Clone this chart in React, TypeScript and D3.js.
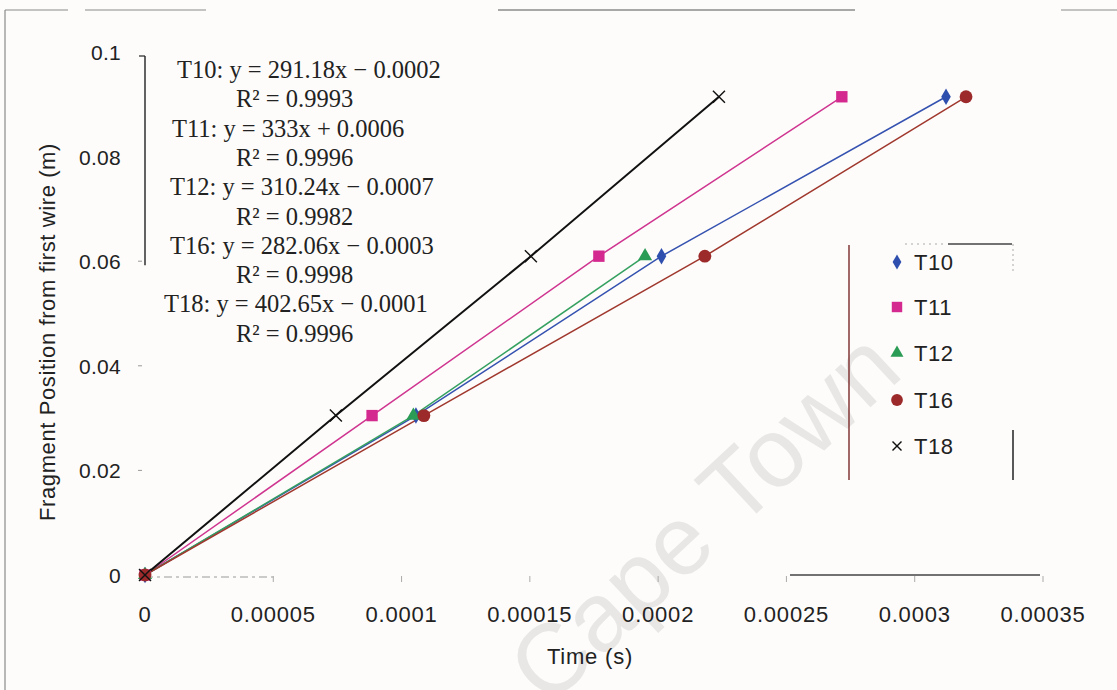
import React from 'react';
import * as d3 from 'd3';

const xTicks = [0, 0.00005, 0.0001, 0.00015, 0.0002, 0.00025, 0.0003, 0.00035];
const xTickLabels = ['0', '0.00005', '0.0001', '0.00015', '0.0002', '0.00025', '0.0003', '0.00035'];
const yTicks = [0, 0.02, 0.04, 0.06, 0.08, 0.1];
const yTickLabels = ['0', '0.02', '0.04', '0.06', '0.08', '0.1'];

const positions = [0, 0.03048, 0.06096, 0.09144];
const t10Times = [0, 0.0001056, 0.0002013, 0.0003122];
const t11Times = [0, 0.0000885, 0.0001769, 0.0002716];
const t12Times = [0, 0.0001046, 0.0001949];
const t16Times = [0, 0.0001087, 0.0002182, 0.00032];
const t18Times = [0, 0.0000744, 0.0001504, 0.0002237];

const seriesNames = ['T10', 'T11', 'T12', 'T16', 'T18'];
const seriesTimes = [t10Times, t11Times, t12Times, t16Times, t18Times];
const seriesColors = ['#2f4fae', '#d42a8f', '#2a9c55', '#9c2a2a', '#111111'];
const lineColors = ['#3552b0', '#cf3590', '#35a060', '#a0382e', '#111111'];
const seriesShapes = ['diamond', 'square', 'triangle', 'circle', 'x'];

const equationLines = [
  'T10: y = 291.18x − 0.0002',
  'R² = 0.9993',
  'T11: y = 333x + 0.0006',
  'R² = 0.9996',
  'T12: y = 310.24x − 0.0007',
  'R² = 0.9982',
  'T16: y = 282.06x − 0.0003',
  'R² = 0.9998',
  'T18: y = 402.65x − 0.0001',
  'R² = 0.9996',
];

function Marker({ shape, x, y, color, size }: { shape: string; x: number; y: number; color: string; size: number }) {
  if (shape === 'x') {
    const h = size / 2;
    return (
      <g stroke={color} strokeWidth={1.4}>
        <line x1={x - h} y1={y - h} x2={x + h} y2={y + h} />
        <line x1={x - h} y1={y + h} x2={x + h} y2={y - h} />
      </g>
    );
  }
  const type =
    shape === 'diamond' ? d3.symbolDiamond : shape === 'square' ? d3.symbolSquare : shape === 'triangle' ? d3.symbolTriangle : d3.symbolCircle;
  const area = shape === 'diamond' ? size * size * 0.55 : shape === 'triangle' ? size * size * 0.6 : size * size * 0.9;
  const p = d3.symbol().type(type).size(area)() || '';
  return <path d={p} transform={`translate(${x},${y})`} fill={color} />;
}

export default function App() {
  const W = 1117;
  const H = 690;
  const x = d3.scaleLinear().domain([0, 0.00035]).range([145, 1043]);
  const y = d3.scaleLinear().domain([0, 0.1]).range([575, 52]);
  const line = d3
    .line<[number, number]>()
    .x((d) => x(d[0]))
    .y((d) => y(d[1]));

  const eqLeft = [177, 236, 172, 236, 170, 236, 170, 236, 164, 236];
  const legendY = [262, 307, 353, 400, 446];

  return (
    <svg
      width={W}
      height={H}
      style={{ position: 'absolute', left: 0, top: 0, background: '#fdfcfa' }}
      fontFamily="'Liberation Sans', Arial, sans-serif"
    >
      <rect x={0} y={0} width={W} height={H} fill="#fdfcfa" />

      {/* watermark */}
      <text
        x={0}
        y={0}
        transform="translate(548,708) rotate(-43)"
        fontSize={98}
        fill="#e8e7e5"
        fontFamily="'Liberation Sans', Arial, sans-serif"
      >
        Cape Town
      </text>

      {/* outer border fragments */}
      <g stroke="#8a8a8a" strokeWidth={1.2}>
        <line x1={5} y1={10} x2={5} y2={690} />
        <line x1={5} y1={10} x2={68} y2={10} />
        <line x1={85} y1={10} x2={206} y2={10} />
        <line x1={498} y1={10} x2={855} y2={10} stroke="#555" />
        <line x1={1061} y1={10} x2={1117} y2={10} />
      </g>

      {/* y axis */}
      <line x1={x(0)} y1={y(0.1) + 4} x2={x(0)} y2={y(0.06) + 4} stroke="#222" strokeWidth={1.4} />
      <line x1={x(0) - 6} y1={y(0.1) + 4} x2={x(0)} y2={y(0.1) + 4} stroke="#222" strokeWidth={1.2} />
      {yTicks.slice(1, 4).map((t, i) => (
        <line key={i} x1={x(0) - 7} y1={y(t)} x2={x(0) - 3} y2={y(t)} stroke="#999" strokeWidth={1} />
      ))}
      {yTicks.map((t, i) => (
        <text key={i} x={121} y={y(t) + 8} textAnchor="end" fontSize={21} letterSpacing={0.3} fill="#222">
          {yTickLabels[i]}
        </text>
      ))}
      <text transform={`translate(55,332) rotate(-90)`} textAnchor="middle" fontSize={22} letterSpacing={0.6} fill="#222">
        Fragment Position from first wire (m)
      </text>

      {/* x axis */}
      <line x1={x(0)} y1={577} x2={x(0.00005)} y2={577} stroke="#999" strokeWidth={1.2} strokeDasharray="8 4 3 4" />
      <line x1={790} y1={575} x2={x(0.00035) - 3} y2={575} stroke="#444" strokeWidth={1.3} />
      {xTicks.slice(1).map((t, i) => (
        <line key={i} x1={x(t)} y1={576} x2={x(t)} y2={582} stroke="#aaa" strokeWidth={1} />
      ))}
      {xTicks.map((t, i) => (
        <text key={i} x={x(t)} y={622} textAnchor="middle" fontSize={22} letterSpacing={0.8} fill="#222">
          {xTickLabels[i]}
        </text>
      ))}
      <text x={590} y={664} textAnchor="middle" fontSize={22} letterSpacing={0.8} fill="#222">
        Time (s)
      </text>

      {/* series lines */}
      {seriesTimes.map((times, si) => (
        <path
          key={si}
          d={line(times.map((t, i) => [t, positions[i]] as [number, number])) || ''}
          fill="none"
          stroke={lineColors[si]}
          strokeWidth={si === 4 ? 2 : 1.5}
        />
      ))}
      {/* markers */}
      {seriesTimes.map((times, si) =>
        times.map((t, i) => (
          <Marker key={`${si}-${i}`} shape={seriesShapes[si]} x={x(t)} y={y(positions[i])} color={seriesColors[si]} size={12} />
        ))
      )}

      {/* equations */}
      <g fontFamily="'Liberation Serif', 'Times New Roman', serif" fontSize={24.5} fill="#222">
        {equationLines.map((s, i) => (
          <text key={i} x={eqLeft[i]} y={78 + i * 29.3}>
            {s}
          </text>
        ))}
      </g>

      {/* legend */}
      <line x1={849} y1={245} x2={849} y2={480} stroke="#7a2a2a" strokeWidth={1.4} />
      <line x1={905} y1={244} x2={945} y2={244} stroke="#aaa" strokeWidth={1} strokeDasharray="2 4" />
      <line x1={948} y1={244} x2={1012} y2={244} stroke="#444" strokeWidth={1.3} />
      <line x1={1013} y1={244} x2={1013} y2={272} stroke="#aaa" strokeWidth={1} strokeDasharray="2 3" />
      <line x1={1013} y1={430} x2={1013} y2={480} stroke="#222" strokeWidth={1.5} />
      {seriesNames.map((n, i) => (
        <g key={n}>
          <Marker shape={seriesShapes[i]} x={897} y={legendY[i]} color={seriesColors[i]} size={i === 4 ? 9 : 11} />
          <text x={914} y={legendY[i] + 8} fontSize={22} letterSpacing={0.6} fill="#222">
            {n}
          </text>
        </g>
      ))}
    </svg>
  );
}
